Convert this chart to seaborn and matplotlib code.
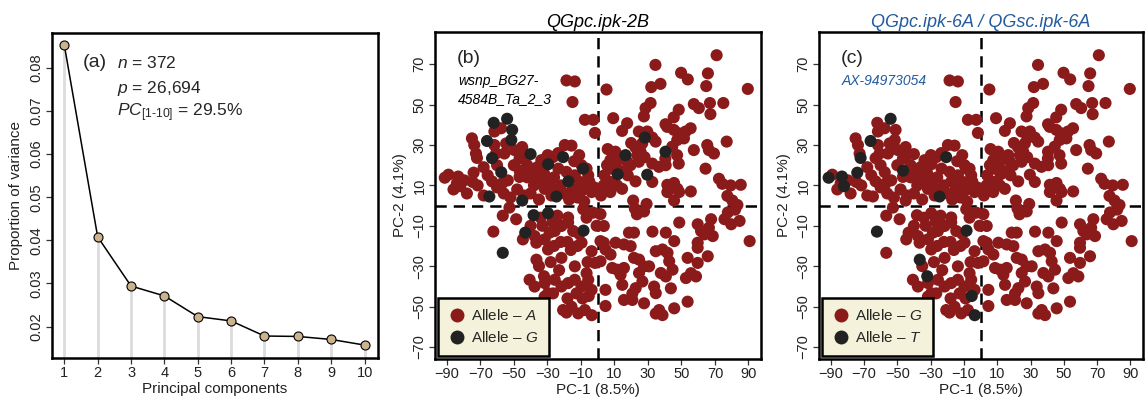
import numpy as np
import pandas as pd
import seaborn as sns
import matplotlib.pyplot as plt

# ---- panel (a): scree plot ----
pcs = [1, 2, 3, 4, 5, 6, 7, 8, 9, 10]
prop_var = [0.0853, 0.0408, 0.0294, 0.0271, 0.0223, 0.0213, 0.0178, 0.0177, 0.0170, 0.0157]

# ---- panels (b)/(c): PCA scores, grouped by allele in each panel ----
# red in both panels (b: Allele A, c: Allele G)
pts_red_both = [
    (-89, 15.3), (-79.6, 12.5), (-74.6, 11.7), (-71.6, 10), (-65.6, 15), (-86, 8), (-78, 6),
    (-68, 5), (-60, 9), (-56, 6), (-52, 4), (-48, 8), (-40, 6), (-38, 10), (-35, 3), (-30, 13),
    (-28, 9), (-26, 14), (-22, 10), (-20, 6), (-15, 8), (-12, 4), (-8, 2), (-5, 12), (-2, 9),
    (-60, 20), (-68, 19), (-50, 20), (-42, 20), (-36, 19), (-14, 22), (-11, 25),
    (-18.6, 62), (-13.6, 61.5), (-15, 51.3), (-7.6, 42.5), (-2.6, 42.5), (-1.6, 36),
    (-19.6, 30), (-15.6, 29.7), (-57.6, 38.3), (-75, 33.3), (-73.6, 30), (-72.6, 25.8),
    (-61.6, 36.7), (-61.6, 30), (-60.6, 25.8), (-55.6, 25.8), (-54.6, 30.8), (-49.6, 27.5),
    (-46.6, 23.3), (-33.6, 22.5), (-26.6, 24), (-23.6, 26), (-9.6, 20), (-6.6, 18.3),
    (-5.6, 15), (-53.6, 12.5), (-46.6, 14.2), (-42, 14), (-36.6, 14.2), (-33.6, 11.7),
    (-31.6, 8.3), (-27.6, 5), (-18.6, 16.7), (-13.6, 15), (-10.6, 11.7), (-6.6, 9.2),
    (-3.6, 6.7), (-23.4, 18.3), (-41.4, 16.7), (-38.4, 13.3), (-34.4, 17.5), (-44.4, 25),
    (-45, 29), (-29.8, 25), (-84, 11), (-63, 12), (-57, 11), (-44, 5), (-32, 16), (-25, 7),
    (-17, 3), (-10, 7),
    (71, 74.5), (34.5, 69.7), (5.3, 57.5), (89.6, 57.8), (49.8, 65.8), (53.8, 62.5),
    (65.8, 65.5), (64.8, 59.2), (32, 58.7), (37.5, 60.3), (75, 50.8), (57.4, 50.3),
    (60.4, 48.3), (67, 50.8), (67.3, 45.3), (31.6, 50.8), (28.6, 48.3), (27.6, 44.2),
    (48.4, 47.5), (45.4, 43.7), (40.5, 40.3), (9.3, 43.3), (17.6, 40.8), (14.6, 37),
    (24.6, 36.7), (29.6, 36.7), (32.6, 33.7), (34.6, 31.7), (41.5, 39), (45.5, 37.5),
    (48.5, 35.8), (52.5, 36.7), (55.5, 38.3), (51.5, 33.3), (47.5, 32.5), (44.5, 29.2),
    (77, 31.7), (65.4, 30), (66.4, 27.5), (69.4, 25.8), (47.4, 25), (48.4, 20.8), (64.4, 18.3),
    (10.6, 26.7), (7.6, 22.5), (10.6, 21.7), (13.6, 23.3), (17.6, 21.7), (19.6, 20),
    (23.6, 25), (25.6, 26.7), (24.6, 21.7), (26.6, 30.8), (5.6, 20), (8.6, 18.3), (11.6, 18.3),
    (15.6, 16.7), (32.6, 20.8), (36.6, 19.2), (40.6, 20), (32.6, 11.7), (22.6, 12), (3.6, 10),
    (7.6, 11.7), (11.6, 10), (7.6, 6.7), (14.6, 8.3), (41.6, 10.3), (45.6, 11.2), (47.6, 8.3),
    (41.6, 6.7), (48.6, 6.7), (55.6, 7), (72.4, 13.3), (74.4, 10.8), (79.4, 10), (85.4, 10.3),
    (21.2, 2.5), (29.2, 0.8), (45.6, 2.5), (80.4, 2.5), (83.4, 0.3), (77.4, 4.8), (4, 15),
    (2, 5), (22.4, 29), (57.4, 27.5), (40.4, 23.3), (18, 15), (28, 24), (6, 28), (20, 31),
    (90.7, -17.6), (82, -2), (77.7, -3.4), (75.7, -6.75), (79.7, -9.25), (84.7, -7.6),
    (67.7, -6.75), (68.7, -15.1), (59.7, -9.25), (61.7, -12.6), (63.7, -14.25), (59.7, -18.4),
    (59.7, -20.9), (53.7, -25.9), (65.7, -25.1), (59.7, -28.4), (48.7, -8.4), (40.7, -13.4),
    (45.7, -17.6), (32.7, -12.9), (34.7, -22.6), (38.7, -21.75), (41.7, -23.4), (42.7, -27.6),
    (44.7, -31.75), (40.7, -35.1), (37.7, -33.4), (52.7, -35.9), (55.7, -33.5), (58.7, -35.1),
    (43.7, -41), (53.7, -47.6), (45.7, -50.9), (36.7, -51.75), (38.7, -54.25), (34.7, -53.5),
    (27.7, -48.4), (20.7, -46.75), (15.7, -46.75), (22.7, -40.9), (26.7, -37.6), (20.7, -43.6),
    (33.7, -40.1), (34.7, -43.4), (4.7, -41.75), (4.7, -49.75), (3.7, -18.4), (4.7, -21.75),
    (7.7, -24.25), (10.7, -18.4), (15.7, -19.25), (19.7, -20.1), (21.7, -13.4), (18.7, -13.4),
    (21.7, -25.9), (24.7, -26.75), (27.7, -30.1), (30.7, -30.1), (15.7, -30.9), (13.7, -34.25),
    (11.7, -31.75), (8.7, -30.9), (14.7, -39.25), (1.7, -4.25), (3.7, -10.1), (1.7, -17.6),
    (1.7, -27.6), (27.7, -2.9), (22.2, -1.5), (23.4, -4.3), (66.4, -11), (24.7, -33.4),
    (-56.6, -5), (-48.6, -6.75), (-52.6, -1), (-44.6, -16.75), (-37.6, -15.1), (-36.6, -18.4),
    (-31.6, -16.75), (-28.6, -13.4), (-25.6, -12.6), (-21.6, -10.1), (-17.6, -8.4),
    (-14.6, -12.6), (-17.6, -5.9), (-29.6, -21.75), (-21.6, -25.9), (-13.6, -30.1),
    (-9.6, -18.4), (-3.6, -22.6), (-1.6, -28.4), (-40.6, -36.75), (-37.6, -40.1),
    (-31.6, -38.4), (-29.6, -43.4), (-25.6, -36.75), (-21.6, -40.1), (-17.6, -38.4),
    (-13.6, -36.75), (-9.6, -40.1), (-5.6, -36.75), (-3.6, -41.75), (-31.6, -45.1),
    (-20.6, -51.75), (-15.6, -50.1), (-11.6, -53.4), (-7.6, -51.75), (-26.6, -43.5),
    (-6.6, -33.5), (-12.6, -43.5), (-0.6, -10), (-2.6, -3.5), (-6.6, -6), (-8.6, -1.8),
    (-26, -20), (-33, -10), (-24, -5), (-12, -20), (-18, -18), (-6, -28), (-28, -28),
    (-40, -10), (-34, -6), (-27, -8), (-22, -18), (-16, -22), (-11, -14), (-18.6, -53),
    (-23, -32), (-18, -46), (-9, -46), (-35, -30),
]
# black in (b) only (b: Allele G, c: Allele G)
pts_black_b = [
    (-62, 41), (-51, 37.5), (-51.5, 32.5), (-63, 23.5), (-57.5, 16.5), (-40, 25.5),
    (-29.5, 20.5), (-17.5, 12), (-8.6, 18.3), (-64.6, 4.5), (-45, 2.5), (-56.6, -23.4),
    (-43.2, -13.4), (-38.2, -4.75), (-29.6, -3.75), (28.2, 33.7), (40.5, 26.7), (16.6, 25),
    (29.6, 15.3), (12, 15.5),
]
# black in (c) only (b: Allele A, c: Allele T)
pts_black_c = [
    (-91.2, 13.8), (-83.2, 14.4), (-82, 9.6), (-74, 16.3), (-72, 23.6), (-46.5, 17.3),
    (-62.2, -12.9), (-36.5, -26.8), (-32, -35), (-5.3, -44.8), (-3.5, -54.3),
]
# black in both panels (b: Allele G, c: Allele T)
pts_black_both = [(-54, 43), (-66, 32), (-20.6, 24), (-24.6, 4.5), (-8.4, -12.4)]

RED = "#8b1a1a"
BLACK = "#222222"
BLUE = "#245b9c"

rows = []
for pts, ab, ac in [(pts_red_both, "A", "G"), (pts_black_b, "G", "G"),
                    (pts_black_c, "A", "T"), (pts_black_both, "G", "T")]:
    for x, y in pts:
        rows.append({"pc1": x, "pc2": y, "allele_b": ab, "allele_c": ac})
df = pd.DataFrame(rows)

sns.set_style("white")
plt.rcParams["font.family"] = ["Liberation Sans", "DejaVu Sans"]
plt.rcParams["mathtext.fontset"] = "custom"
plt.rcParams["mathtext.rm"] = "Liberation Sans"
plt.rcParams["mathtext.it"] = "Liberation Sans:italic"

fig = plt.figure(figsize=(11.47, 3.98), dpi=100)
ax_a = fig.add_axes([0.0453, 0.1005, 0.2842, 0.8166])
ax_b = fig.add_axes([0.3793, 0.098, 0.2842, 0.8216])
ax_c = fig.add_axes([0.7140, 0.098, 0.2825, 0.8216])


def style_frame(ax):
    for sp in ax.spines.values():
        sp.set_visible(True)
        sp.set_linewidth(1.8)
        sp.set_color("black")
    ax.tick_params(axis="both", direction="out", length=4, width=0.9, color="#333333",
                   labelsize=10.5, labelcolor="#222222", pad=2, bottom=True, left=True)
    ax.tick_params(axis="y", labelrotation=90)
    for lab in ax.get_yticklabels():
        lab.set_va("center")


# ---- (a) ----
ax_a.vlines(pcs, 0.0127, prop_var, color="#dcdcdc", lw=2, zorder=1)
sns.lineplot(x=pcs, y=prop_var, ax=ax_a, color="black", lw=1.1, marker="o",
             markersize=6.5, markerfacecolor="#cdb38b", markeredgecolor="black",
             markeredgewidth=0.8, zorder=3)
ax_a.set_xlim(0.63, 10.4)
ax_a.set_ylim(0.0127, 0.0881)
ax_a.set_xticks(pcs)
ax_a.set_yticks([0.02, 0.03, 0.04, 0.05, 0.06, 0.07, 0.08])
ax_a.set_yticklabels(["0.02", "0.03", "0.04", "0.05", "0.06", "0.07", "0.08"])
ax_a.set_xlabel("Principal components", fontsize=11, labelpad=1, color="#222222")
ax_a.set_ylabel("Proportion of variance", fontsize=11, labelpad=5, color="#222222")
style_frame(ax_a)
ax_a.text(0.095, 0.908, "(a)", transform=ax_a.transAxes, fontsize=14, va="center")
ax_a.text(0.2, 0.908, r"$\mathit{n}$ = 372", transform=ax_a.transAxes, fontsize=12.5, va="center")
ax_a.text(0.2, 0.828, r"$\mathit{p}$ = 26,694", transform=ax_a.transAxes, fontsize=12.5, va="center")
ax_a.text(0.2, 0.754, r"$\mathit{PC}_{[1\text{-}10]}$ = 29.5%", transform=ax_a.transAxes,
          fontsize=12.5, va="center")


def pca_panel(ax, hue_col, order, title, title_color, letter, marker_lines, marker_color):
    ax.axvline(0, color="black", lw=1.8, ls=(0, (4.5, 2.8)), zorder=1)
    ax.axhline(0, color="black", lw=1.8, ls=(0, (4.5, 2.8)), zorder=1)
    sns.scatterplot(data=df, x="pc1", y="pc2", hue=hue_col, hue_order=order,
                    palette=[RED, BLACK], s=76, linewidth=0, ax=ax, zorder=2)
    ax.set_xlim(-97, 97.5)
    ax.set_ylim(-76, 86)
    ax.set_xticks(np.arange(-90, 91, 20))
    ax.set_yticks(np.arange(-70, 71, 20))
    ax.set_xlabel("PC-1 (8.5%)", fontsize=11, labelpad=1, color="#222222")
    ax.set_ylabel("PC-2 (4.1%)", fontsize=11, labelpad=4, color="#222222")
    style_frame(ax)
    ax.text(0.5, 1.03, title, transform=ax.transAxes, ha="center", va="center",
            fontsize=13, style="italic", color=title_color)
    ax.text(0.068, 0.918, letter, transform=ax.transAxes, fontsize=14, va="center")
    for i, line in enumerate(marker_lines):
        ax.text(0.07, 0.85 - 0.056 * i, line, transform=ax.transAxes, fontsize=10,
                style="italic", va="center", color=marker_color)
    h, _ = ax.get_legend_handles_labels()
    labels = [r"Allele – $\mathit{%s}$" % a for a in order]
    leg = ax.legend(h, labels, loc="lower left", fontsize=11, frameon=True,
                    fancybox=False, framealpha=1, facecolor="#f4f2da", edgecolor="black",
                    borderaxespad=0.2, handletextpad=0.35, labelspacing=0.45,
                    borderpad=0.7, handlelength=1.1, markerscale=1.15)
    leg.get_frame().set_linewidth(1.8)


pca_panel(ax_b, "allele_b", ["A", "G"], "QGpc.ipk-2B", "black", "(b)",
          ["wsnp_BG27-", "4584B_Ta_2_3"], "black")
pca_panel(ax_c, "allele_c", ["G", "T"], "QGpc.ipk-6A / QGsc.ipk-6A", BLUE, "(c)",
          ["AX-94973054"], BLUE)

fig.savefig("out.png", dpi=100)
